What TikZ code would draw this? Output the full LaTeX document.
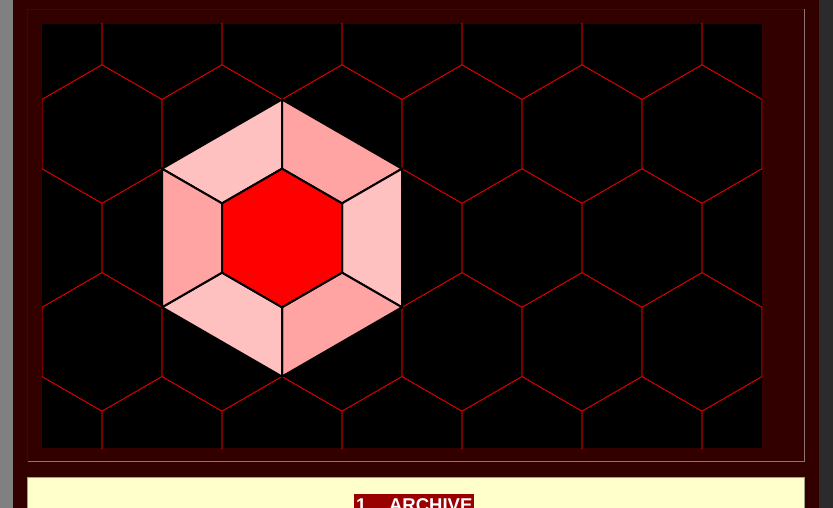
\documentclass[tikz,border=0pt]{standalone}
\usepackage{fontspec}
\setmainfont{Liberation Sans}
\definecolor{bgred}{HTML}{330000}
\definecolor{leftgray}{HTML}{808080}
\definecolor{rightgray}{HTML}{2B2B2B}
\definecolor{frameshadow}{HTML}{2A1010}
\definecolor{framelight}{HTML}{8C7474}
\definecolor{gridred}{HTML}{CC0000}
\definecolor{pinklight}{HTML}{FFC0C0}
\definecolor{pinkdark}{HTML}{FFA3A3}
\definecolor{core}{HTML}{FF0000}
\definecolor{cream}{HTML}{FFFFCC}
\definecolor{creamborder}{HTML}{A3A38A}
\definecolor{archred}{HTML}{990000}
\begin{document}
\begin{tikzpicture}[x=1pt,y=-1pt,
  gridline/.style={draw=gridred,line width=0.8pt},
  piece/.style={draw=black,line width=2pt,line join=round},
  titlebox/.style={fill=archred,text=white,font=\fontsize{18.5}{18.5}\selectfont\bfseries,
    anchor=north west,inner xsep=2pt,inner ysep=4pt,text height=13.3pt,text depth=4pt}]
\useasboundingbox (0,0) rectangle (833,508);
% backgrounds
\fill[bgred] (0,0) rectangle (833,508);
\fill[leftgray] (0,0) rectangle (13,508);
\fill[rightgray] (819,0) rectangle (833,508);
% frame border
\draw[frameshadow,line width=1pt] (27.5,462) -- (27.5,9.5) -- (804,9.5);
\draw[framelight,line width=1pt] (27.5,461.5) -- (804.5,461.5) -- (804.5,9);
% black field
\fill[black] (42,24) rectangle (762,448);
% hex grid
\begin{scope}
\clip (42,24) rectangle (762,448);
\foreach \k in {-2,...,2}{
  \pgfmathsetmacro\cy{238+103.923*\k}
  \pgfmathsetmacro\off{mod(abs(\k),2)*60}
  \foreach \m in {-1,...,7}{
    \pgfmathsetmacro\cx{42+\off+120*\m}
    \draw[gridline] (\cx,\cy) +(90:69.282) -- +(30:69.282) -- +(-30:69.282)
      -- +(-90:69.282) -- +(-150:69.282) -- +(150:69.282) -- cycle;
  }
}
\end{scope}
% big hexagon
\coordinate (C) at (282,238);
\foreach \a/\col in {-150/pinklight,-90/pinkdark,-30/pinklight,30/pinkdark,90/pinklight,150/pinkdark}{
  \pgfmathsetmacro\b{\a+60}
  \filldraw[piece,fill=\col] (C) +(\a:138.564) -- +(\b:138.564) -- +(\b:69.282) -- +(\a:69.282) -- cycle;
}
\filldraw[piece,fill=core] (C) +(90:69.282) -- +(30:69.282) -- +(-30:69.282)
  -- +(-90:69.282) -- +(-150:69.282) -- +(150:69.282) -- cycle;
% caption box
\filldraw[fill=cream,draw=creamborder,line width=1pt] (27.5,477.5) rectangle (804.5,520);
\node[titlebox] (title) at (354,494) {1.\hspace{17.5pt}ARCHIVE};
\end{tikzpicture}
\end{document}
